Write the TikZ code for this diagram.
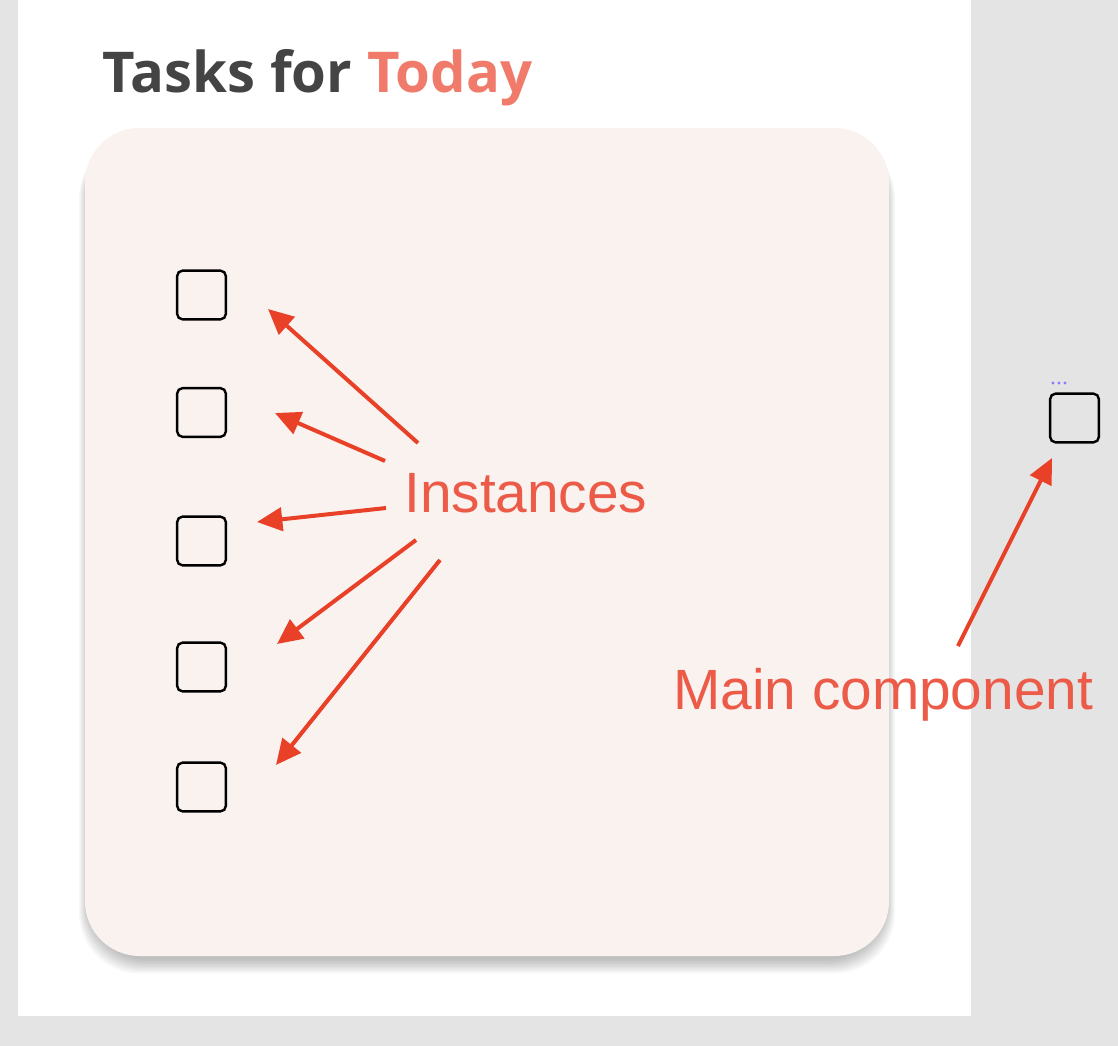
\documentclass[tikz,border=0pt]{standalone}
\usepackage{fontspec}
\setmainfont{Liberation Sans}
\newfontfamily\titlefont{Open Sans}
\usetikzlibrary{arrows.meta}
\definecolor{bggray}{HTML}{E4E4E4}
\definecolor{cardfill}{HTML}{F9F2EF}
\definecolor{titledark}{HTML}{444444}
\definecolor{titlesalmon}{HTML}{F07B6A}
\definecolor{annot}{HTML}{EC5A48}
\definecolor{arrowred}{HTML}{E94128}
\definecolor{dotpurple}{HTML}{8A7CF8}
\tikzset{
  checkbox/.style={draw=black, line width=1.8pt, rounded corners=4pt, minimum width=36.5pt, minimum height=36.5pt, inner sep=0pt, fill=none},
  annotation/.style={text=annot, font=\fontsize{42.6}{48}\selectfont, inner sep=0pt, anchor=base west},
  pointer/.style={draw=arrowred, line width=3pt, -{Triangle[length=19pt,width=17.5pt]}},
}
\begin{document}
\begin{tikzpicture}[x=0.75pt,y=-0.75pt]
\useasboundingbox (0,0) rectangle (1118,1046);
% backgrounds
\fill[bggray] (0,0) rectangle (1118,1046);
\fill[white] (18,0) rectangle (971,1016);
% card shadow (soft)
\foreach \k in {0,1.5,...,15}{
  \fill[black, opacity=0.022, rounded corners=45pt] (85-\k*0.6+3,128+10) rectangle (889+\k*0.6-3,956+4+\k*0.9);
}
\fill[cardfill, rounded corners=41pt] (85,128) rectangle (889,956);
% title
\node[inner sep=0pt, anchor=base west, font=\titlefont\bfseries\fontsize{42.2}{48}\selectfont] (title) at (102.5,92) {\textcolor{titledark}{Tasks for} \textcolor{titlesalmon}{Today}};
% checkboxes
\node[checkbox] (b1) at (201.5,295) {};
\node[checkbox] (b2) at (201.5,412.5) {};
\node[checkbox] (b3) at (201.5,541) {};
\node[checkbox] (b4) at (201.5,667) {};
\node[checkbox] (b5) at (201.5,787) {};
\node[checkbox] (main) at (1074.5,418) {};
% dots
\foreach \x in {1053,1059,1065} \fill[dotpurple] (\x,383) circle (1.3pt);
% labels
\node[annotation] (inst) at (404,512) {Instances};
\node[annotation] (mainlbl) at (673,709) {Main component};
% arrow ends
\coordinate (t1) at (418,443); \coordinate (h1) at (268,309);
\coordinate (t2) at (385,461); \coordinate (h2) at (275,413);
\coordinate (t3) at (386,508); \coordinate (h3) at (257,522);
\coordinate (t4) at (416,540); \coordinate (h4) at (277,644);
\coordinate (t5) at (440,560); \coordinate (h5) at (276,765);
\coordinate (t6) at (958,646); \coordinate (h6) at (1052,458);
\draw[pointer] (t1) -- (h1);
\draw[pointer] (t2) -- (h2);
\draw[pointer] (t3) -- (h3);
\draw[pointer] (t4) -- (h4);
\draw[pointer] (t5) -- (h5);
\draw[pointer] (t6) -- (h6);
\end{tikzpicture}
\end{document}
